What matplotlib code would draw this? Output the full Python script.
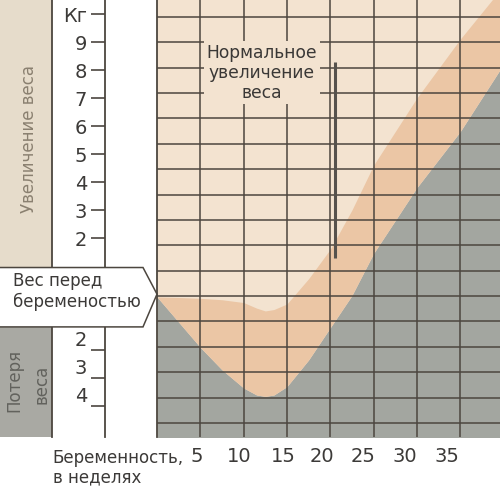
import numpy as np
import matplotlib
matplotlib.use("Agg")
import matplotlib.pyplot as plt
from matplotlib.patches import Polygon, Rectangle
from matplotlib.transforms import blended_transform_factory

# Normal weight-change corridor during pregnancy (kg relative to pre-pregnancy weight)
weeks = [0, 2.5, 5, 7.5, 10, 11.5, 12.5, 13.5, 15, 17.5, 20, 22.5, 25, 30, 35, 40]
normal_low = [-0.1, -1.0, -1.9, -2.7, -3.35, -3.6, -3.65, -3.6, -3.3, -2.35, -1.2, -0.05,
              1.45, 3.8, 5.8, 8.2]
normal_high = [-0.1, -0.12, -0.15, -0.2, -0.3, -0.5, -0.6, -0.55, -0.35, 0.55, 1.6, 3.0,
               4.6, 7.0, 9.1, 11.0]

week_ticks = [5, 10, 15, 20, 25, 30, 35]
week_labels = ["5", "10", "15", "20", "25", "30", "35"]
gain_ticks = [10, 9, 8, 7, 6, 5, 4, 3, 2]
gain_labels = ["Кг", "9", "8", "7", "6", "5", "4", "3", "2"]
loss_ticks = [-2, -3, -4]
loss_labels = ["2", "3", "4"]
marker_week = 20.6
marker_range = [1.3, 8.3]

PALE = "#f3e3d0"
TAN = "#ebc6a5"
GRAY = "#a3a6a0"
SIDE_BEIGE = "#e6dccb"
SIDE_GRAY = "#a9a9a3"
INK = "#4c463f"

W, H = 500, 487
fig = plt.figure(figsize=(5.0, 4.87), dpi=100, facecolor="white")


def fx(px):
    return px / W


def fy(py):
    return 1 - py / H


X_MIN, X_MAX = 0, 39.6
Y_MIN, Y_MAX = -5.1, 10.5

# background layer for the side panel
bg = fig.add_axes([0, 0, 1, 1], zorder=-1)
bg.set_xlim(0, W)
bg.set_ylim(H, 0)
bg.axis("off")

# main chart
ax = fig.add_axes([fx(157), fy(437), fx(500) - fx(157), fy(0) - fy(437)], zorder=1)
ax.set_xlim(X_MIN, X_MAX)
ax.set_ylim(Y_MIN, Y_MAX)
ax.set_facecolor(PALE)
ax.fill_between(weeks, Y_MIN - 1, normal_low, color=GRAY, lw=0)
ax.fill_between(weeks, normal_low, normal_high, color=TAN, lw=0)

ax.set_xticks(week_ticks)
ax.set_xticklabels([])
ax.set_yticks([])
ax.set_yticks(np.arange(-4.6, Y_MAX, 0.906), minor=True)
ax.tick_params(which="both", length=0)
ax.set_axisbelow(False)
ax.grid(axis="x", which="major", color=INK, lw=1.1)
ax.grid(axis="y", which="minor", color=INK, lw=1.1)
for side in ("top", "right", "bottom"):
    ax.spines[side].set_visible(False)
ax.spines["left"].set_color(INK)
ax.spines["left"].set_linewidth(1.3)

label_shift = [-4, -4, -4, -8, -10, -12, -13]
for w, lab, dx in zip(week_ticks, week_labels, label_shift):
    ax.annotate(lab, xy=(w, 0), xycoords=("data", "axes fraction"),
                xytext=(dx * 0.72, -7), textcoords="offset points",
                ha="center", va="top", fontsize=14, color="#3c3a38")

ax.plot([marker_week, marker_week], marker_range, color="#56524d", lw=2.2,
        solid_capstyle="butt", zorder=4)

ax.text(12.1, 7.9, "Нормальное\nувеличение\nвеса", ha="center", va="center",
        fontsize=12.3, color="#3a3836", linespacing=1.15, zorder=5,
        bbox=dict(boxstyle="square,pad=0.15", facecolor=PALE, edgecolor="none"))

# weight scale
sc = fig.add_axes([fx(105), fy(437), fx(157) - fx(105), fy(0) - fy(437)], zorder=0.5)
sc.set_ylim(Y_MIN, Y_MAX)
sc.set_xlim(0, 1)
sc.patch.set_visible(False)
for side in ("top", "right", "bottom"):
    sc.spines[side].set_visible(False)
sc.spines["left"].set_color(INK)
sc.spines["left"].set_linewidth(1.3)
sc.set_xticks([])
sc.set_yticks(gain_ticks + loss_ticks)
sc.set_yticklabels(gain_labels + loss_labels)
sc.tick_params(axis="y", direction="out", length=10, width=1.2, color=INK,
               pad=3, labelsize=14, labelcolor="#3c3a38")
for lbl in sc.get_yticklabels()[len(gain_ticks):]:
    lbl.set_verticalalignment("bottom")

# side band
side = blended_transform_factory(bg.transData, ax.transData)
bg.add_patch(Rectangle((0, 0), 52, Y_MAX - 0, transform=side,
                       facecolor=SIDE_BEIGE, edgecolor="none"))
bg.add_patch(Rectangle((0, Y_MIN), 52, 0 - Y_MIN, transform=side,
                       facecolor=SIDE_GRAY, edgecolor="none"))
bg.plot([52, 52], [Y_MIN, Y_MAX], transform=side, color=INK, lw=1.3)
bg.text(29, 139, "Увеличение веса", rotation=90, ha="center", va="center",
        fontsize=12, color="#8a8070")
bg.text(14, 380, "Потеря", rotation=90, ha="center", va="center",
        fontsize=12, color="#62625d")
bg.text(41, 384, "веса", rotation=90, ha="center", va="center",
        fontsize=12, color="#62625d")

bg.text(52, 463, "Беременность,", ha="left", va="baseline", fontsize=12,
        color="#3c3a38")
bg.text(53, 482, "в неделях", ha="left", va="baseline", fontsize=12,
        color="#3c3a38")

# pre-pregnancy weight pointer, above everything on the left
top = fig.add_axes([0, 0, 1, 1], zorder=5)
top.set_xlim(0, W)
top.set_ylim(H, 0)
top.axis("off")
ptr = blended_transform_factory(top.transData, ax.transData)
top.add_patch(Polygon([(-3, 0.95), (143, 0.95), (157, 0), (143, -1.17), (-3, -1.17)],
                      closed=True, transform=ptr, facecolor="white",
                      edgecolor=INK, lw=1.1))
top.text(13, 0.09, "Вес перед\nбеременостью", transform=ptr,
         ha="left", va="center", fontsize=12, color="#3c3a38", linespacing=1.2)

fig.savefig("out.png", dpi=100, facecolor="white")
